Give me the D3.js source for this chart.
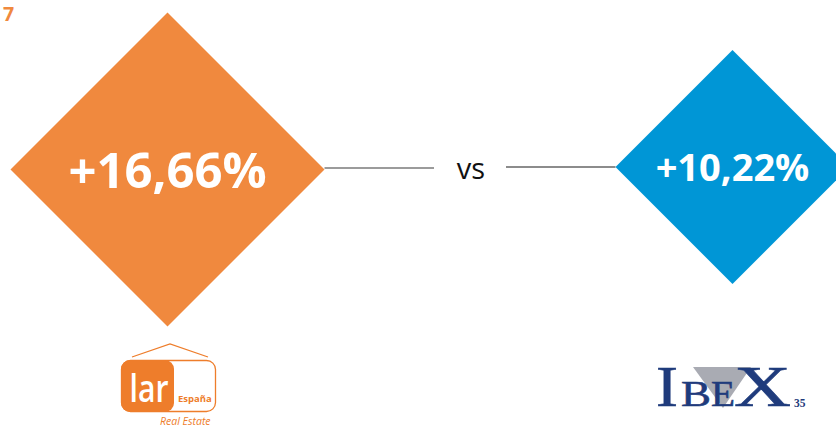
<!DOCTYPE html>
<html>
<head>
<meta charset="utf-8">
<script src="https://cdn.jsdelivr.net/npm/d3@7"></script>
<style>
  html, body { margin: 0; padding: 0; background: #fff; }
  svg { display: block; }
</style>
</head>
<body>
<svg id="chart" width="836" height="426"></svg>
<script>
// Return comparison: Lar España vs IBEX 35
const names = ["Lar España", "IBEX 35"];
const values = [16.66, 10.22];
const valueLabels = ["+16,66%", "+10,22%"];
const colors = ["#f0893e", "#0096d6"];
const pageNumber = "7";
const versusLabel = "vs";

const svg = d3.select("#chart");

// horizontal placement of each diamond
const x = d3.scalePoint().domain(names).range([167.5, 732.5]);
const cy = d3.scaleOrdinal().domain(names).range([169.5, 167]);
// half-diagonal of each diamond grows with the return
const size = d3.scaleLinear().domain(d3.extent(values)).range([117, 157]);
const fontSize = d3.scaleLinear().domain(d3.extent(values)).range([38, 49]);

const data = names.map((n, i) => ({ name: n, value: values[i], label: valueLabels[i], color: colors[i] }));

// page number
svg.append("text")
  .attr("x", 3).attr("y", 21)
  .attr("font-family", "Open Sans").attr("font-weight", 700)
  .attr("font-size", 19.5).attr("fill", "#f0893e")
  .text(pageNumber);

// connectors between the diamonds
const leftRight = x(names[0]) + size(values[0]);
const rightLeft = x(names[1]) - size(values[1]);
svg.append("line")
  .attr("x1", leftRight).attr("x2", 434)
  .attr("y1", 168).attr("y2", 168)
  .attr("stroke", "#7a7a7a").attr("stroke-width", 1.6);
svg.append("line")
  .attr("x1", 506).attr("x2", rightLeft)
  .attr("y1", 167).attr("y2", 167)
  .attr("stroke", "#1a1a1a").attr("stroke-width", 1.2);
svg.append("text")
  .attr("x", 471).attr("y", 179)
  .attr("text-anchor", "middle")
  .attr("font-family", "Open Sans").attr("font-size", 29)
  .attr("fill", "#111")
  .text(versusLabel);

// diamonds
const g = svg.selectAll("g.item").data(data).join("g").attr("class", "item")
  .attr("transform", d => `translate(${x(d.name)},${cy(d.name)})`);

g.append("path")
  .attr("d", d => {
    const r = size(d.value);
    return `M0,${-r}L${r},0L0,${r}L${-r},0Z`;
  })
  .attr("fill", d => d.color);

g.append("text")
  .attr("x", 0)
  .attr("y", d => fontSize(d.value) * 0.38)
  .attr("text-anchor", "middle")
  .attr("font-family", "Open Sans").attr("font-weight", 700)
  .attr("font-size", d => fontSize(d.value))
  .attr("fill", "#fff")
  .text(d => d.label);

// Lar España logo
const lar = svg.append("g").attr("class", "logo-lar");
const larOrange = "#ee7d2b";
lar.append("path")
  .attr("d", "M132,357L170,344L208,357")
  .attr("fill", "none").attr("stroke", larOrange).attr("stroke-width", 1.3);
lar.append("rect")
  .attr("x", 121.5).attr("y", 360.5).attr("width", 94).attr("height", 51)
  .attr("rx", 9).attr("fill", "none").attr("stroke", larOrange).attr("stroke-width", 1.3);
lar.append("rect")
  .attr("x", 121).attr("y", 360).attr("width", 53).attr("height", 52)
  .attr("rx", 9).attr("fill", larOrange);
lar.append("text")
  .attr("x", 149).attr("y", 402).attr("text-anchor", "middle")
  .attr("font-family", "Open Sans").attr("font-weight", 600).attr("font-size", 37).attr("fill", "#fff")
  .attr("textLength", 39).attr("lengthAdjust", "spacingAndGlyphs")
  .text("lar");
lar.append("text")
  .attr("x", 178).attr("y", 402)
  .attr("font-family", "Open Sans").attr("font-weight", 700).attr("font-size", 9.5)
  .attr("fill", larOrange)
  .text("España");
lar.append("text")
  .attr("x", 160).attr("y", 424.5)
  .attr("font-family", "Open Sans").attr("font-style", "italic").attr("font-size", 10.5)
  .attr("fill", larOrange)
  .text("Real Estate");

// IBEX 35 logo: grey wedge behind serif lettering
const ibex = svg.append("g").attr("class", "logo-ibex");
const navy = "#1f3b7c";
ibex.append("path")
  .attr("d", "M693,367L751,367L723,408Z")
  .attr("fill", "#a9abb3");
const serif = "Liberation Serif";
const ibexLetters = [
  { t: "I", x: 656, w: 22, fs: 57 },
  { t: "B", x: 681, w: 30, fs: 36 },
  { t: "E", x: 711, w: 24, fs: 36 },
  { t: "X", x: 734, w: 57, fs: 57 }
];
ibex.selectAll("text.letter").data(ibexLetters).join("text")
  .attr("class", "letter")
  .attr("x", d => d.x).attr("y", 406)
  .attr("font-family", serif).attr("font-size", d => d.fs)
  .attr("textLength", d => d.w).attr("lengthAdjust", "spacingAndGlyphs")
  .attr("fill", navy).attr("stroke", navy).attr("stroke-width", 0.6)
  .text(d => d.t);
ibex.append("text").attr("x", 794).attr("y", 407)
  .attr("font-family", serif).attr("font-weight", 700).attr("font-size", 11.5).attr("fill", navy).text("35");
</script>
</body>
</html>
